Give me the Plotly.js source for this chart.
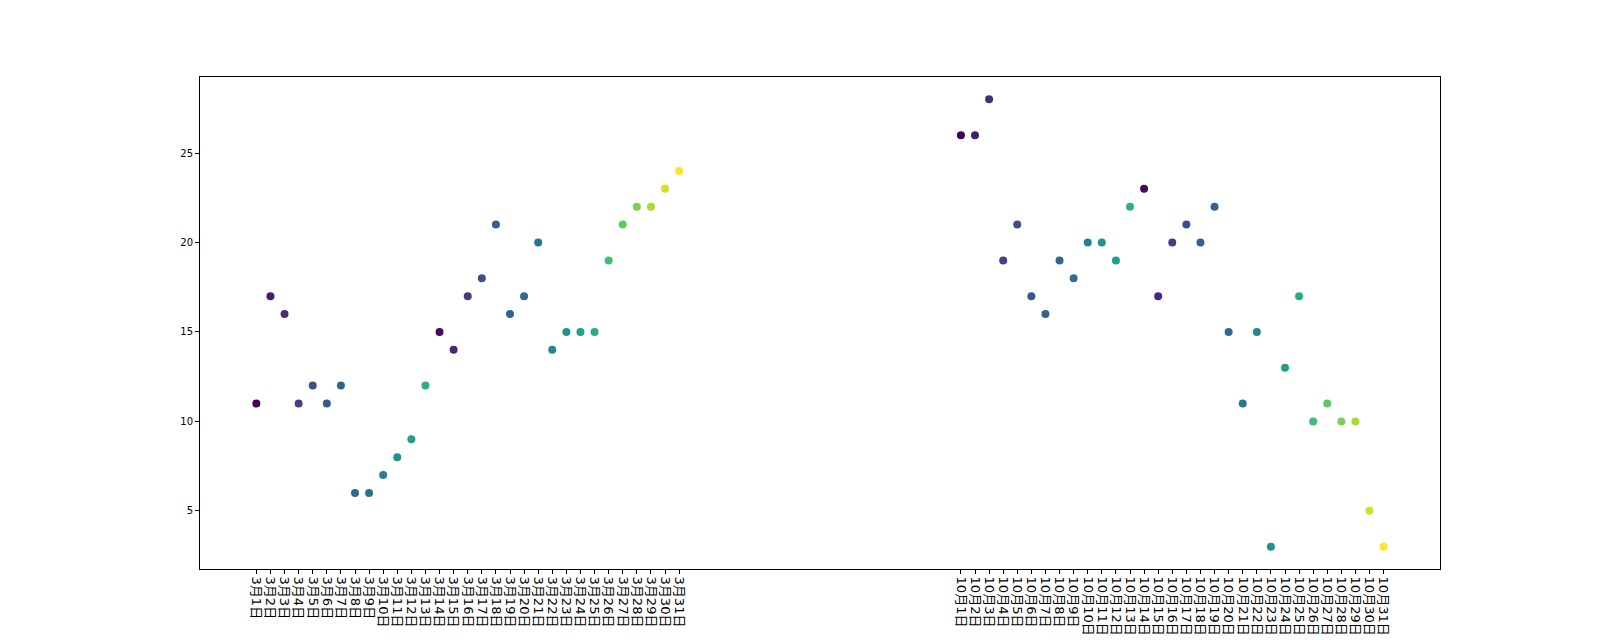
<!DOCTYPE html>
<html>
<head>
<meta charset="utf-8">
<script src="https://cdn.plot.ly/plotly-3.0.1.min.js"></script>
<style>html,body{margin:0;padding:0;background:#fff;}#chart{width:1600px;height:640px;}</style>
</head>
<body>
<div id="chart"></div>
<script>
// Tick labels
const marchLabels = Array.from({length: 31}, (_, i) => '3月' + (i + 1) + '日');
const octLabels = Array.from({length: 31}, (_, i) => '10月' + (i + 1) + '日');

// Series values
const marchValues = [11,17,16,11,12,11,12,6,6,7,8,9,12,15,14,17,18,21,16,17,20,14,15,15,15,19,21,22,22,23,24];
const octValues   = [26,26,28,19,21,17,16,19,18,20,20,19,22,23,17,20,21,20,22,15,11,15,3,13,17,10,11,10,10,5,3];

// Colour values per day (shared by both months), mapped through viridis
const colorValues = [0.00,0.08,0.13,0.19,0.24,0.28,0.31,0.34,0.36,0.43,0.50,0.56,0.64,
                     0.03,0.11,0.18,0.24,0.30,0.31,0.35,0.38,0.45,0.51,0.56,0.62,0.69,0.75,0.80,0.87,0.93,1.00];

const viridis = [
  [0.0,'#440154'],[0.1,'#482475'],[0.2,'#414487'],[0.3,'#355f8d'],[0.4,'#2a788e'],
  [0.5,'#21918c'],[0.6,'#22a884'],[0.7,'#44bf70'],[0.8,'#7ad151'],[0.9,'#bddf26'],[1.0,'#fde725']
];

const GAP = 50; // position offset of October block
const xMarch = marchLabels.map((_, i) => i);
const xOct = octLabels.map((_, i) => i + GAP);

const x = xMarch.concat(xOct);
const y = marchValues.concat(octValues);
const c = colorValues.concat(colorValues);

const trace = {
  type: 'scatter',
  mode: 'markers',
  x: x, y: y,
  marker: {size: 8, color: c, colorscale: viridis, cmin: 0, cmax: 1, line: {width: 0}},
  hoverinfo: 'x+y'
};

const layout = {
  width: 1600, height: 640,
  paper_bgcolor: '#fff', plot_bgcolor: '#fff',
  margin: {l: 200, r: 160, t: 77, b: 71, pad: 0},
  showlegend: false,
  xaxis: {
    range: [-4, 84],
    tickmode: 'array',
    tickvals: x,
    ticktext: marchLabels.concat(octLabels),
    tickangle: 90,
    ticks: 'outside', ticklen: 4, tickwidth: 1, tickcolor: '#000',
    showline: true, linecolor: '#000', linewidth: 1, mirror: true,
    showgrid: false, zeroline: false,
    tickfont: {family: 'DejaVu Sans, Noto Sans CJK SC, sans-serif', size: 13, color: '#000'}
  },
  yaxis: {
    range: [1.75, 29.25],
    tickmode: 'array',
    tickvals: [5, 10, 15, 20, 25],
    ticks: 'outside', ticklen: 4, tickwidth: 1, tickcolor: '#000',
    showline: true, linecolor: '#000', linewidth: 1, mirror: true,
    showgrid: false, zeroline: false,
    tickfont: {family: 'DejaVu Sans, sans-serif', size: 10, color: '#000'}
  }
};

Plotly.newPlot('chart', [trace], layout, {displayModeBar: false, staticPlot: true});
</script>
</body>
</html>
